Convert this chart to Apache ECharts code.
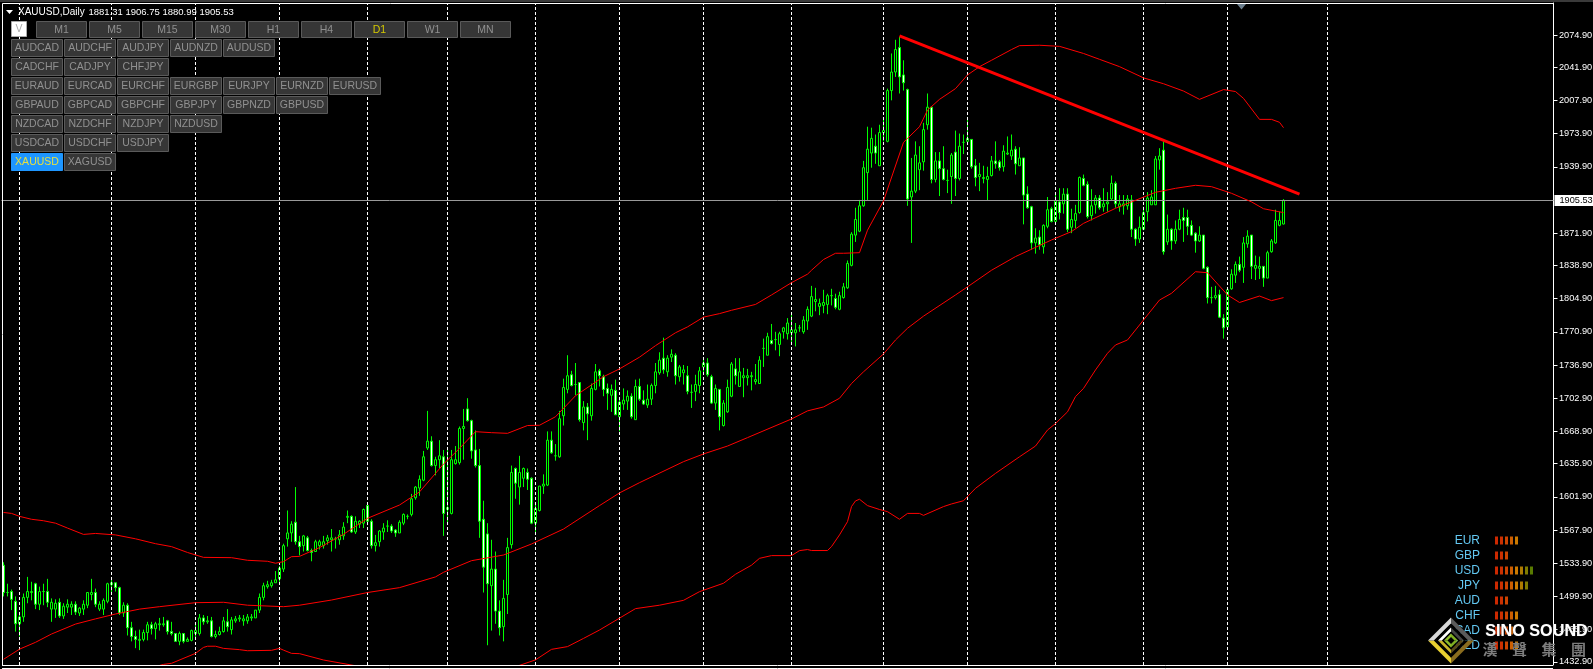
<!DOCTYPE html>
<html><head><meta charset="utf-8">
<style>html,body{margin:0;padding:0;background:#000;overflow:hidden}#c{width:1593px;height:669px}</style>
<script src="https://cdn.jsdelivr.net/npm/echarts@6/dist/echarts.min.js"></script>
</head><body><div id="c"></div>
<script>
const opens=[1532,1504,1505,1495,1472,1479,1499,1504,1513,1492,
1505,1505,1487,1487,1494,1480,1489,1489,1492,1483,
1487,1491,1502,1504,1487,1487,1495,1512,1514,1509,
1483,1491,1468,1459,1455,1456,1463,1471,1467,1471,
1471,1475,1464,1462,1454,1462,1454,1455,1462,1462,
1478,1474,1475,1459,1461,1464,1474,1466,1475,1477,
1475,1475,1478,1478,1486,1499,1510,1511,1514,1518,
1528,1559,1565,1576,1556,1552,1560,1547,1546,1552,
1552,1557,1558,1559,1558,1562,1581,1582,1566,1574,
1575,1593,1577,1552,1556,1566,1572,1572,1568,1565,
1575,1582,1584,1601,1611,1619,1652,1659,1634,1640,
1643,1589,1585,1636,1637,1672,1692,1680,1650,1634,
1579,1564,1511,1528,1485,1469,1502,1553,1631,1612,
1621,1627,1621,1575,1588,1613,1614,1660,1644,1643,
1685,1712,1727,1717,1719,1678,1694,1685,1712,1731,
1725,1713,1706,1711,1684,1697,1700,1705,1681,1715,
1701,1696,1702,1716,1729,1744,1730,1745,1747,1725,
1729,1726,1709,1710,1716,1735,1739,1725,1698,1712,
1675,1689,1705,1733,1715,1724,1724,1725,1720,1718,
1754,1747,1762,1763,1758,1771,1769,1770,1770,1775,
1771,1782,1787,1802,1797,1798,1799,1808,1805,1794,
1806,1816,1839,1870,1874,1900,1934,1954,1961,1941,
1975,1966,2018,2037,2062,2034,2019,1909,1915,1937,
1945,1983,2001,1927,1946,1938,1926,1930,1955,1928,
1965,1966,1968,1941,1930,1928,1927,1931,1946,1945,
1940,1953,1951,1958,1941,1949,1912,1899,1862,1868,
1858,1879,1897,1884,1904,1902,1912,1878,1885,1893,
1928,1922,1890,1901,1908,1899,1902,1907,1923,1899,
1900,1900,1906,1876,1866,1876,1894,1901,1901,1947,
1957,1863,1876,1864,1876,1888,1888,1880,1872,1864,
1870,1837,1806,1806,1809,1785,1776,1815,1829,1840,
1837,1861,1870,1836,1836,1838,1826,1853,1862,1880,1881.31];
const closes=[1504,1504,1497,1472,1479,1499,1505,1505,1492,1505,
1505,1494,1494,1493,1480,1490,1492,1492,1484,1488,
1492,1504,1504,1492,1492,1496,1513,1514,1509,1483,
1491,1468,1459,1456,1456,1463,1471,1467,1472,1472,
1472,1464,1462,1454,1462,1454,1456,1465,1465,1478,
1474,1475,1459,1461,1464,1475,1469,1476,1477,1478,
1477,1479,1479,1486,1499,1511,1512,1514,1517,1529,
1552,1565,1574,1556,1551,1562,1547,1545,1556,1556,
1556,1560,1560,1559,1563,1571,1582,1566,1577,1577,
1589,1577,1552,1555,1567,1570,1572,1567,1565,1576,
1584,1582,1600,1612,1620,1643,1659,1634,1640,1644,
1585,1591,1640,1640,1672,1674,1680,1649,1634,1577,
1530,1513,1528,1485,1468,1498,1550,1627,1616,1627,
1631,1620,1575,1590,1613,1615,1660,1647,1644,1682,
1714,1726,1716,1717,1681,1694,1687,1713,1730,1726,
1712,1708,1712,1686,1699,1701,1705,1684,1715,1702,
1697,1702,1716,1730,1742,1732,1744,1748,1726,1735,
1732,1710,1709,1717,1731,1739,1727,1698,1713,1684,
1698,1714,1738,1726,1730,1726,1726,1726,1722,1742,
1754,1766,1759,1763,1769,1775,1780,1773,1773,1775,
1783,1794,1807,1804,1800,1801,1808,1808,1796,1808,
1817,1841,1871,1886,1900,1939,1958,1969,1954,1975,
1977,2018,2037,2060,2032,2026,1907,1915,1952,1944,
1978,2001,1927,1946,1938,1927,1926,1952,1928,1961,
1965,1969,1940,1929,1932,1929,1930,1946,1943,1939,
1956,1954,1957,1943,1949,1911,1898,1862,1867,1860,
1880,1896,1884,1905,1893,1912,1876,1886,1892,1929,
1921,1889,1900,1908,1898,1902,1904,1923,1902,1902,
1902,1907,1876,1866,1878,1893,1908,1909,1948,1951,
1853,1876,1864,1876,1886,1885,1879,1870,1864,1870,
1836,1806,1806,1808,1786,1775,1814,1830,1840,1834,
1862,1869,1838,1839,1838,1826,1852,1864,1885,1885,1905.53];
const lows=[1500,1500,1486,1464,1459,1474,1493,1496,1487,1486,
1491,1489,1474,1478,1478,1477,1483,1481,1481,1480,
1481,1488,1496,1489,1485,1481,1493,1503,1505,1481,
1479,1460,1454,1447,1445,1454,1455,1461,1456,1465,
1469,1461,1460,1454,1450,1452,1454,1454,1457,1460,
1471,1472,1458,1457,1460,1463,1464,1461,1473,1474,
1470,1472,1475,1478,1483,1496,1508,1509,1514,1515,
1525,1551,1556,1553,1542,1546,1546,1536,1546,1548,
1549,1553,1546,1549,1553,1558,1575,1565,1564,1570,
1570,1573,1549,1546,1551,1558,1566,1565,1561,1565,
1573,1579,1582,1599,1603,1618,1650,1633,1624,1631,
1562,1575,1584,1635,1635,1640,1679,1641,1632,1560,
1504,1450,1465,1472,1460,1454,1482,1549,1600,1594,
1612,1609,1574,1565,1587,1605,1613,1646,1639,1642,
1675,1708,1715,1706,1679,1670,1660,1680,1711,1715,
1705,1691,1689,1686,1669,1691,1691,1682,1681,1700,
1696,1693,1696,1708,1727,1728,1725,1740,1717,1720,
1717,1707,1693,1700,1708,1727,1725,1697,1691,1670,
1674,1688,1704,1717,1715,1704,1716,1711,1717,1718,
1735,1747,1758,1752,1746,1764,1763,1759,1756,1771,
1769,1773,1786,1792,1788,1790,1789,1798,1794,1793,
1805,1815,1838,1863,1873,1899,1906,1939,1943,1941,
1966,1965,2008,2032,2015,2018,1900,1862,1913,1916,
1936,1978,1923,1924,1910,1926,1913,1902,1910,1926,
1953,1964,1938,1920,1915,1923,1905,1930,1938,1936,
1935,1952,1947,1932,1941,1881,1897,1855,1851,1855,
1851,1877,1883,1883,1886,1892,1873,1872,1877,1892,
1920,1887,1885,1892,1896,1894,1894,1906,1898,1894,
1891,1896,1868,1859,1862,1875,1884,1901,1901,1937,
1850,1860,1855,1861,1875,1863,1870,1869,1852,1863,
1835,1800,1800,1804,1785,1764,1773,1814,1821,1832,
1821,1857,1825,1824,1825,1817,1826,1852,1861,1879,1880.99];
const highs=[1535,1513,1507,1500,1483,1503,1520,1515,1514,1510,
1513,1518,1498,1497,1498,1493,1497,1495,1495,1489,
1496,1504,1518,1508,1495,1498,1514,1518,1514,1510,
1494,1493,1474,1465,1466,1466,1474,1474,1474,1478,
1479,1476,1474,1462,1464,1462,1458,1466,1471,1482,
1481,1480,1479,1465,1469,1479,1487,1479,1480,1481,
1481,1482,1482,1486,1503,1514,1516,1517,1526,1531,
1554,1588,1577,1612,1562,1563,1562,1549,1558,1558,
1562,1563,1569,1561,1568,1576,1588,1583,1582,1578,
1590,1594,1579,1563,1568,1575,1578,1574,1569,1578,
1585,1584,1605,1613,1624,1649,1690,1664,1643,1660,
1650,1653,1650,1654,1674,1692,1703,1681,1670,1651,
1598,1575,1558,1546,1496,1517,1560,1634,1632,1644,
1632,1631,1622,1594,1613,1625,1669,1669,1656,1690,
1723,1747,1731,1739,1719,1700,1698,1718,1738,1733,
1727,1718,1717,1722,1703,1713,1711,1708,1722,1723,
1711,1717,1718,1739,1750,1765,1747,1753,1749,1737,
1737,1736,1717,1727,1735,1744,1744,1727,1717,1712,
1701,1722,1740,1744,1744,1734,1733,1730,1738,1746,
1764,1770,1779,1771,1771,1776,1785,1789,1780,1778,
1787,1797,1818,1816,1805,1814,1810,1815,1810,1812,
1821,1844,1873,1898,1906,1946,1981,1980,1973,1983,
1988,2020,2056,2070,2073,2049,2020,1949,1966,1961,
1985,2015,2002,1955,1955,1961,1937,1954,1977,1974,
1973,1991,1968,1948,1944,1941,1940,1951,1966,1947,
1962,1971,1973,1961,1960,1949,1920,1900,1877,1875,
1881,1909,1899,1912,1918,1918,1918,1897,1901,1930,
1932,1925,1917,1911,1911,1918,1914,1931,1925,1911,
1911,1911,1911,1877,1889,1899,1914,1916,1951,1959,
1966,1891,1877,1885,1896,1898,1896,1885,1873,1879,
1870,1838,1817,1818,1814,1789,1815,1835,1843,1848,
1868,1875,1870,1849,1848,1838,1854,1866,1896,1894,1906.75];

const upperBand=[[0,1586],[2,1585],[4,1582],[7,1579],[10,1577.5],[13,1575],[16,1570],[20,1563.5],[23,1564.5],[28,1563],[33,1559],[38,1554],[42,1551],[46,1545],[50,1540],[57,1539.7],[61,1537],[66,1536],[68,1534],[70,1535.6],[72,1540.7],[74,1541],[79,1550],[85,1563.6],[91,1580],[99,1593.6],[104,1607],[108,1626],[110,1635.6],[114,1651.6],[118,1668.7],[122,1667.7],[126,1667],[131,1675],[134,1675.3],[138,1684],[143,1705.5],[150,1725],[154,1733],[159,1745],[163,1756.8],[168,1770],[171,1776],[175,1786],[179,1789.6],[182,1793],[188,1799],[192,1808.7],[197,1821.3],[201,1830],[202,1834],[205,1845],[208,1851.4],[210,1851.4],[214,1852],[216,1875],[220,1905],[225,1965],[226,1969],[229,1981],[231,1998],[234,2009],[238,2020],[241,2034],[244,2042.5],[247,2049],[252,2060],[254,2064],[259,2064.4],[264,2063.3],[270,2056],[274,2050],[279,2042.5],[285,2031],[290,2025],[295,2017.5],[299,2009],[305,2019],[308,2017],[310,2010],[314,1988.5],[317,1988.5],[319,1985.5],[320,1980]];
const middleBand=[[0,1435.6],[4,1446],[8,1453],[12,1461.5],[18,1471.7],[23,1477],[28,1482],[34,1487],[39,1489.5],[48,1493.6],[55,1494],[61,1491],[70,1489.5],[74,1491],[82,1496.3],[91,1504],[99,1509],[108,1520],[110,1524.7],[117,1536.6],[125,1542.4],[132,1553.7],[140,1569],[149,1593],[154,1606],[159,1616.5],[170,1638],[175,1645.9],[181,1654],[186,1662.6],[197,1681.7],[201,1690],[205,1694],[209,1702.9],[212,1718],[215,1730],[220,1748.3],[223,1762.6],[226,1774.6],[230,1787],[238,1808.7],[241,1817],[247,1834],[253,1848],[262,1865],[267,1873.6],[270,1882],[278,1897.4],[282,1904],[288,1913.8],[293,1917.9],[298,1921],[302,1919.6],[307,1912.8],[312,1904],[315,1897],[320,1893]];
const lowerBandEarly=[[36,1426],[40,1430.4],[42,1431.5],[48,1441.7],[50,1447.8],[51,1449],[53,1449],[55,1446.8],[59,1445.5],[61,1444.4],[67,1444.8],[69,1446.8],[70,1445],[72,1441.7],[74,1441.4],[80,1434.9],[88,1429],[92,1426]];
const lowerBandLate=[[126,1425],[128,1428],[133,1435],[137,1445.8],[141,1448.6],[145,1457],[149,1465.6],[158,1487.5],[164,1491],[170,1496],[174,1504.9],[180,1513.5],[183,1522.7],[187,1532],[189,1539],[192,1541.8],[197,1541.8],[199,1546.9],[201,1548],[202,1547],[206,1547],[207,1551],[209,1563],[211,1576.6],[212,1592],[213,1597.8],[214,1599.5],[216,1593],[219,1589],[221,1586.8],[224,1579],[226,1585],[229,1585],[230,1583],[235,1592],[237,1594.7],[240,1598],[243,1610.7],[248,1626],[254,1643],[258,1654],[261,1670.4],[263,1677],[266,1689],[268,1704.6],[270,1713],[273,1731.9],[276,1749],[278,1757.5],[281,1762.6],[289,1803.5],[292,1810.4],[298,1832.5],[301,1831.5],[306,1808.7],[309,1801],[314,1807.6],[317,1802.9],[320,1806]];
const trendLine=[[224,2073.9],[324,1912]];
const currentPrice=1905.53;
const monthSeparators=[4,27,48,69,91,111,133,154,175,197,220,241,263,285,306,331];
const tickLabels=[2074.9,2041.9,2007.9,1973.9,1939.9,1871.9,1838.9,1804.9,1770.9,1736.9,1702.9,1668.9,1635.9,1601.9,1567.9,1533.9,1499.9,1465.9,1432.9];
const timeframes=['M1','M5','M15','M30','H1','H4','D1','W1','MN'];
const pairRows=[['AUDCAD','AUDCHF','AUDJPY','AUDNZD','AUDUSD'],['CADCHF','CADJPY','CHFJPY'],['EURAUD','EURCAD','EURCHF','EURGBP','EURJPY','EURNZD','EURUSD'],['GBPAUD','GBPCAD','GBPCHF','GBPJPY','GBPNZD','GBPUSD'],['NZDCAD','NZDCHF','NZDJPY','NZDUSD'],['USDCAD','USDCHF','USDJPY'],['XAUUSD','XAGUSD']];
const currencies=['EUR','GBP','USD','JPY','AUD','CHF','CAD','NZD'];
const strength=[5,3,8,7,3,5,4,5];
const strengthColors=['#ff3300','#ff3c00','#ff5500','#ff7700','#ff9900','#d99a00','#a09a00','#6f9a00'];

const slots=Array.from({length:388},(_,i)=>String(i));
const candles=opens.map((o,i)=>[o,closes[i],lows[i],highs[i]]);
const meter=[];
strength.forEach((n,r)=>{for(let k=0;k<n;k++)meter.push({value:[k+0.5,currencies[r]],itemStyle:{color:strengthColors[k]}});});

const band=(data,w)=>({type:'line',data,showSymbol:false,symbol:'none',silent:true,z:5,animation:false,
  lineStyle:{color:'#ff0000',width:w||1},xAxisIndex:0,yAxisIndex:0});

const g=[];
const FONT='"Liberation Sans",Arial,sans-serif';
function btn(x,y,w,h,label,fill,stroke,color){
  g.push({type:'rect',shape:{x:x+.5,y:y+.5,width:w-1,height:h-1},style:{fill,stroke,lineWidth:1},z:50,silent:true});
  g.push({type:'text',x:x+w/2,y:y+h/2+.5,style:{text:label,fill:color,font:'10.5px '+FONT,align:'center',verticalAlign:'middle'},z:51,silent:true});
}
const BF='#363636',BS='#5a5a5a',BT='#909090';
g.push({type:'rect',shape:{x:0,y:0,width:1593,height:2},style:{fill:'#3a3a3a'},z:49,silent:true});
g.push({type:'polyline',shape:{points:[[2.5,665.5],[2.5,3.5],[1553.5,3.5]]},style:{stroke:'#fff',lineWidth:1,fill:null},z:49,silent:true});
g.push({type:'line',shape:{x1:2,y1:665.5,x2:1553,y2:665.5},style:{stroke:'#fff',lineWidth:1},z:49,silent:true});
g.push({type:'line',shape:{x1:2,y1:668.5,x2:1553,y2:668.5},style:{stroke:'#fff',lineWidth:1},z:49,silent:true});
g.push({type:'polygon',shape:{points:[[1237,4],[1246,4],[1241.5,9.5]]},style:{fill:'#6c7f8e'},z:49,silent:true});
g.push({type:'polygon',shape:{points:[[6,10],[13,10],[9.5,14]]},style:{fill:'#fff'},z:50,silent:true});
g.push({type:'text',x:18,y:12,style:{text:'XAUUSD,Daily',fill:'#fff',font:'10px '+FONT,verticalAlign:'middle'},z:50,silent:true});
g.push({type:'text',x:88.5,y:12,style:{text:'1881.31 1906.75 1880.99 1905.53',fill:'#fff',font:'9.5px '+FONT,verticalAlign:'middle'},z:50,silent:true});
btn(11,21,16,16,'V','#ffffff','#aaaaaa','#aaaaaa');
timeframes.forEach((t,i)=>btn(36+53*i,21,51,17,t,BF,BS,t==='D1'?'#d4c800':BT));
pairRows.forEach((row,r)=>row.forEach((p,c)=>{
  const on=p==='XAUUSD';
  btn(11+53*c,39+19*r,52,18,p,on?'#1e96ff':BF,on?'#1e96ff':BS,on?'#e6e040':BT);
}));
const cx=1451,cy=640.5;
function ring(o,i,cs){
  const p=[[0,-1],[1,0],[0,1],[-1,0]];
  for(let k=0;k<4;k++){
    const a=p[k],b=p[(k+1)%4];
    g.push({type:'polygon',shape:{points:[[cx+a[0]*o,cy+a[1]*o],[cx+b[0]*o,cy+b[1]*o],[cx+b[0]*i,cy+b[1]*i],[cx+a[0]*i,cy+a[1]*i]]},style:{fill:cs[k]},z:60,silent:true});
  }
}
ring(23,17,['#5b5b5b','#8a6c1e','#e8d030','#d8d8d8']);
ring(17,13,['#000','#000','#000','#000']);
ring(13,9,['#444','#5a4a18','#c8b428','#fff']);
ring(9,7,['#000','#000','#000','#000']);
ring(7,3.5,['#7fae22','#7fae22','#8dbb2a','#8dbb2a']);
g.push({type:'text',x:1536.5,y:632,style:{text:'SINO SOUND',fill:'#fff',font:'bold 16.2px '+FONT,align:'center',verticalAlign:'middle',textShadowColor:'#555',textShadowBlur:1},z:61,silent:true});
['漢','聲','集','團'].forEach((ch,i)=>g.push({type:'text',x:1490+29.5*i,y:649.5,style:{text:ch,fill:'#7d7d7d',font:'bold 15px "Noto Sans CJK TC"',align:'center',verticalAlign:'middle'},z:61,silent:true}));

const chart=echarts.init(document.getElementById('c'),null,{renderer:'canvas',width:1593,height:669});
chart.setOption({
  animation:false,backgroundColor:'#000',
  tooltip:{show:false},
  grid:[{left:1.5,top:3,width:1552,height:662,containLabel:false,outerBoundsMode:'none'},{left:1494,top:533,width:40,height:120,outerBoundsMode:'none'}],
  xAxis:[
    {type:'category',data:slots,show:false,boundaryGap:true},
    {type:'value',gridIndex:1,min:0,max:8,show:false}
  ],
  yAxis:[
    {type:'value',position:'right',min:1429.78,max:2107.67,scale:true,splitLine:{show:false},
     axisLine:{show:true,lineStyle:{color:'#fff',width:1}},
     axisTick:{show:true,length:4,lineStyle:{color:'#fff'},customValues:tickLabels},
     axisLabel:{color:'#fff',fontFamily:'Liberation Sans',fontSize:9.2,margin:5.5,customValues:tickLabels,formatter:v=>v.toFixed(2)}},
    {type:'category',gridIndex:1,data:currencies,inverse:true,
     axisLine:{show:false},axisTick:{show:false},splitLine:{show:false},
     axisLabel:{color:'#63c8f2',fontFamily:'Liberation Sans',fontSize:12,margin:14,align:'right',interval:0}}
  ],
  series:[
    {type:'line',data:[],z:1,silent:true,
     markLine:{silent:true,symbol:'none',animation:false,label:{show:false},
       lineStyle:{color:'#fff',width:1,type:[3,2]},
       data:monthSeparators.map(i=>({xAxis:i}))}},
    {type:'candlestick',data:candles,barWidth:2,z:3,silent:true,
     itemStyle:{color:'#000',color0:'#fff',borderColor:'#00ff00',borderColor0:'#00ff00',borderWidth:1},
     markLine:{silent:true,symbol:'none',animation:false,
       lineStyle:{color:'#9a9a9a',width:1,type:'solid'},
       label:{show:true,position:'end',formatter:()=>currentPrice.toFixed(2),color:'#000',backgroundColor:'#fff',
         fontFamily:'Liberation Sans',fontSize:9.2,padding:[1,1,1,5],distance:1},
       data:[{yAxis:currentPrice}]}},
    band(upperBand),band(middleBand),band(lowerBandEarly),band(lowerBandLate),
    band(trendLine,3),
    {type:'scatter',xAxisIndex:1,yAxisIndex:1,data:meter,symbol:'rect',symbolSize:[3,8],z:4,silent:true}
  ],
  graphic:g
});
</script></body></html>
